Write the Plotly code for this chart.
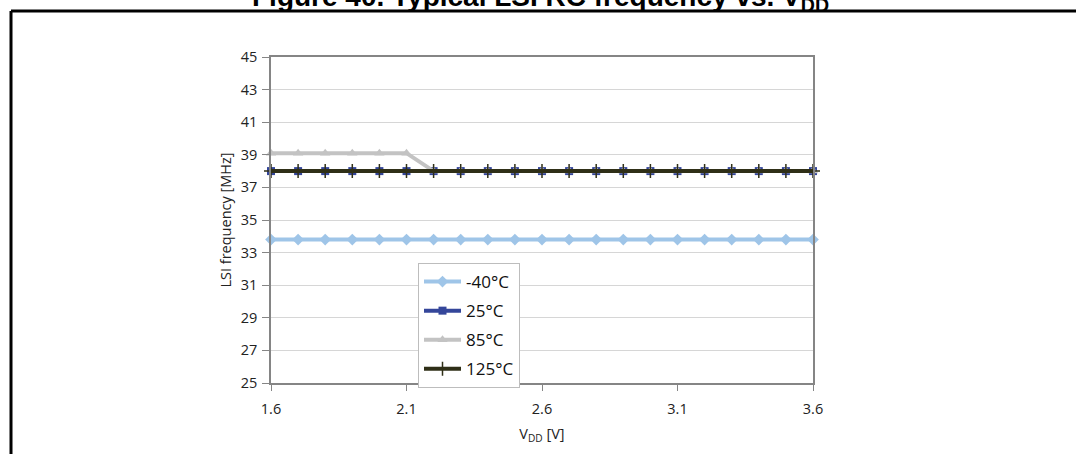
import plotly.graph_objects as go

vdd = [1.6, 1.7, 1.8, 1.9, 2.0, 2.1, 2.2, 2.3, 2.4, 2.5, 2.6,
       2.7, 2.8, 2.9, 3.0, 3.1, 3.2, 3.3, 3.4, 3.5, 3.6]
f_m40 = [33.8, 33.8, 33.8, 33.8, 33.8, 33.8, 33.8, 33.8, 33.8, 33.8, 33.8,
         33.8, 33.8, 33.8, 33.8, 33.8, 33.8, 33.8, 33.8, 33.8, 33.8]
f_25 = [38.0, 38.0, 38.0, 38.0, 38.0, 38.0, 38.0, 38.0, 38.0, 38.0, 38.0,
        38.0, 38.0, 38.0, 38.0, 38.0, 38.0, 38.0, 38.0, 38.0, 38.0]
f_85 = [39.1, 39.1, 39.1, 39.1, 39.1, 39.1, 38.0, 38.0, 38.0, 38.0, 38.0,
        38.0, 38.0, 38.0, 38.0, 38.0, 38.0, 38.0, 38.0, 38.0, 38.0]
f_125 = [38.0, 38.0, 38.0, 38.0, 38.0, 38.0, 38.0, 38.0, 38.0, 38.0, 38.0,
         38.0, 38.0, 38.0, 38.0, 38.0, 38.0, 38.0, 38.0, 38.0, 38.0]
series_names = ["-40°C", "25°C", "85°C", "125°C"]
x_ticks = [1.6, 2.1, 2.6, 3.1, 3.6]
x_tick_labels = ["1.6", "2.1", "2.6", "3.1", "3.6"]
y_ticks = [25, 27, 29, 31, 33, 35, 37, 39, 41, 43, 45]

W, H = 1076, 454
L, R, T, B = 271, 263, 57, 71
PW, PH = W - L - R, H - T - B


def px_x(p):
    return (p - L) / PW


def px_y(p):
    return 1 - (p - T) / PH


styles = [
    dict(color="#9fc5e8", symbol="diamond", size=9, mline=0, mcolor="#9fc5e8"),
    dict(color="#34469a", symbol="square", size=8, mline=0, mcolor="#34469a"),
    dict(color="#c3c3c3", symbol="triangle-up", size=9, mline=0, mcolor="#c3c3c3"),
    dict(color="#2f2f17", symbol="cross-thin", size=10, mline=1.5, mcolor="#2f2f17"),
]
data = [f_m40, f_25, f_85, f_125]

fig = go.Figure()
for name, ys, st in zip(series_names, data, styles):
    fig.add_trace(go.Scatter(
        x=vdd, y=ys, name=name, mode="lines+markers",
        line=dict(color=st["color"], width=4),
        marker=dict(symbol=st["symbol"], size=st["size"], color=st["mcolor"],
                    line=dict(width=st["mline"], color=st["mcolor"])),
        cliponaxis=False, legendgroup=name,
    ))

fig.update_layout(
    width=W, height=H,
    margin=dict(l=L, r=R, t=T, b=B),
    paper_bgcolor="white", plot_bgcolor="white",
    font=dict(family="Open Sans", size=14, color="#222222"),
    showlegend=True,
    legend=dict(
        x=px_x(418), y=px_y(263), xanchor="left", yanchor="top",
        bgcolor="white", bordercolor="#bdbdbd", borderwidth=1,
        font=dict(family="Open Sans", size=17, color="#111111"),
        tracegroupgap=4, itemwidth=37,
    ),
    xaxis=dict(
        range=[1.6, 3.6], tickmode="array", tickvals=x_ticks, ticktext=x_tick_labels,
        showgrid=False, zeroline=False,
        showline=True, mirror=True, linecolor="#858585", linewidth=1.5,
        ticks="outside", ticklen=6, tickcolor="#858585", tickwidth=1,
        tickfont=dict(size=14.5), ticklabelstandoff=6,
        title=dict(text="V<sub>DD</sub> [V]", font=dict(size=14.5), standoff=12),
    ),
    yaxis=dict(
        range=[25, 45], tickmode="array", tickvals=y_ticks,
        showgrid=True, gridcolor="#d6d6d6", gridwidth=1, zeroline=False,
        showline=True, mirror=True, linecolor="#858585", linewidth=1.5,
        ticks="outside", ticklen=7, tickcolor="#858585", tickwidth=1,
        tickfont=dict(size=14.5), ticklabelstandoff=2,
        title=dict(text="LSI frequency [MHz]", font=dict(size=14.5), standoff=6),
    ),
)

# Figure frame (top and left black rules)
fig.add_shape(type="line", xref="paper", yref="paper",
              x0=px_x(11), x1=px_x(1080), y0=px_y(11), y1=px_y(11),
              line=dict(color="black", width=3))
fig.add_shape(type="line", xref="paper", yref="paper",
              x0=px_x(11), x1=px_x(11), y0=px_y(11), y1=px_y(460),
              line=dict(color="black", width=3))

fig.add_annotation(
    text="Figure 40. Typical LSI RC frequency vs. V<sub>DD</sub>",
    xref="paper", yref="paper", x=px_x(540), y=px_y(-1),
    xanchor="center", yanchor="middle", showarrow=False,
    font=dict(family="Liberation Sans", size=28, color="black", weight="bold"),
)

fig.write_html("out.html")
